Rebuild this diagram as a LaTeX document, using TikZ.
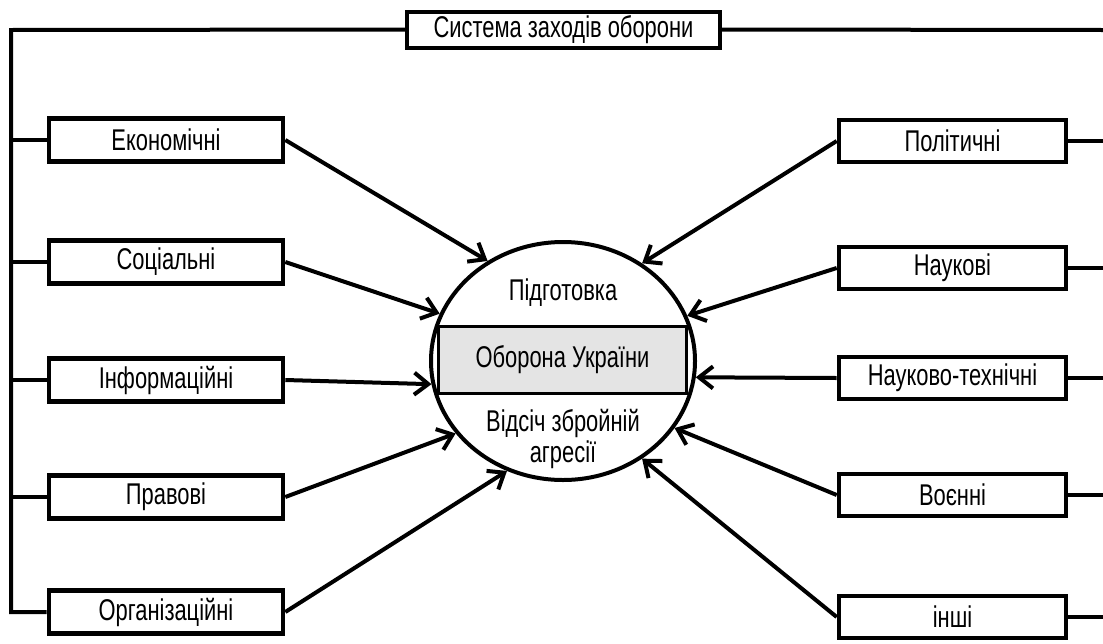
\documentclass[tikz,border=0pt]{standalone}
\usepackage{fontspec}
\setmainfont[FakeStretch=0.73]{Liberation Sans}
\usetikzlibrary{arrows.meta,shapes.geometric}
\definecolor{shade}{RGB}{228,228,228}
\tikzset{
  kind/.style={draw, line width=2.3pt, minimum width=117pt, minimum height=21.5pt,
    inner sep=0pt, font=\fontsize{15}{17}\selectfont},
  kindr/.style={kind, minimum width=113.5pt, minimum height=21pt},
  heading/.style={draw, line width=2pt, minimum width=156.5pt, minimum height=18pt,
    inner sep=0pt, fill=white, font=\fontsize{15}{17}\selectfont},
  orb/.style={draw, ellipse, line width=2pt, minimum width=132pt, minimum height=119pt,
    inner sep=0pt},
  core/.style={draw, fill=shade, line width=1.5pt, minimum width=124pt, minimum height=33.5pt,
    inner sep=0pt, font=\fontsize{15}{17}\selectfont},
  word/.style={align=center, inner sep=0pt, font=\fontsize{15}{15.5}\selectfont},
  bus/.style={line width=2pt},
  feed/.style={line width=2pt, -{Straight Barb[length=7pt,width=11pt]}}
}

\begin{document}
\begin{tikzpicture}[x=0.5pt, y=-0.5pt]
\useasboundingbox (0,0) rectangle (1103,643);

  % Define nodes
\node[orb]  (def) at (563,361) {};
\node[core] (ua)  at (562.5,360) {Оборона України};
\node[word] (prep) at (563,293) {Підготовка};
\node[word] (rep)  at (563,439) {Відсіч збройній\\агресії};

\node[heading] (title) at (563.5,29.5) {Система заходів оборони};

\node[kind] (eco)  at (166,140) {Економічні};
\node[kind] (soc)  at (166,262) {Соціальні};
\node[kind] (info) at (166,380) {Інформаційні};
\node[kind] (law)  at (166,497) {Правові};
\node[kind] (org)  at (166,612) {Організаційні};

\node[kindr] (pol)  at (952.5,141) {Політичні};
\node[kindr] (sci)  at (952.5,268) {Наукові};
\node[kindr] (tech) at (952.5,378) {Науково-технічні};
\node[kindr] (mil)  at (952.5,495) {Воєнні};
\node[kindr] (misc) at (952.5,617) {інші};

\coordinate (busL) at (11,30);
\coordinate (busR) at (1103,30);

  % Connect the nodes
\draw[bus] (title.west) -- (busL) -- (busL |- org.west) -- (org.west);
\draw[bus] (title.east) -- (busR);
\foreach \k in {eco,soc,info,law}
  \draw[bus] (busL |- \k.west) -- (\k.west);
\foreach \k in {pol,sci,tech,mil,misc}
  \draw[bus] (\k.east) -- (busR |- \k.east);

\draw[feed] (eco.east)  -- (def.127);
\draw[feed] (soc.east)  -- (def.159);
\draw[feed] (info.east) -- (def.190);
\draw[feed] (law.east)  -- (def.214);
\draw[feed] (org.east)  -- (def.243);
\draw[feed] (pol.west)  -- (def.51);
\draw[feed] (sci.west)  -- (def.20);
\draw[feed] (tech.west) -- (def.353);
\draw[feed] (mil.west)  -- (def.329);
\draw[feed] (misc.west) -- (def.309);

\end{tikzpicture}
\end{document}
